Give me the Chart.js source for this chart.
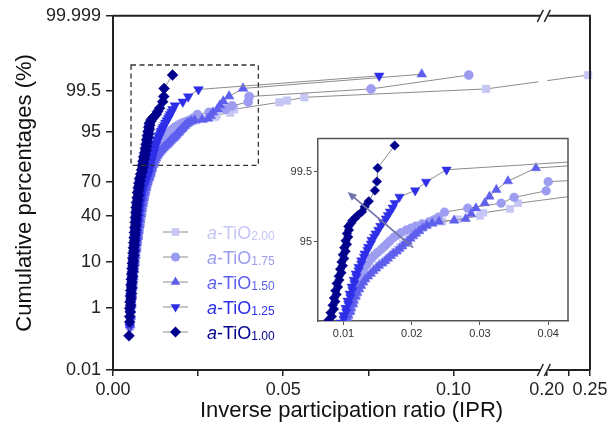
<!DOCTYPE html>
<html><head><meta charset="utf-8">
<script src="https://cdn.jsdelivr.net/npm/chart.js@4.4.1/dist/chart.umd.min.js"></script>
<style>
html,body{margin:0;padding:0;background:#fff;}
#wrap{position:relative;width:611px;height:445px;overflow:hidden;}
#main{position:absolute;left:0;top:0;}
#inset{position:absolute;left:283px;top:130px;}
</style></head><body>
<div id="wrap"><canvas id="main" width="611" height="445"></canvas><canvas id="inset" width="295" height="215"></canvas></div>
<script>
// ---------------- data: [IPR, cumulative %] ----------------
const seriesKeys = ['1.00','1.25','1.50','1.75','2.00'];

const tio100 = [[0.0047,0.16],[0.0049,0.42],[0.0049,0.6],[0.0051,0.8],[0.0049,1.0],[0.0052,1.2],[0.0050,1.45],[0.0053,1.7],[0.0051,2.0],[0.0054,2.3],[0.0052,2.7],[0.0055,3.1],[0.0053,3.6],[0.0056,4.1],[0.0054,4.7],[0.0057,5.3],[0.0055,6.0],[0.0058,6.8],[0.0056,7.6],[0.0059,8.5],[0.0057,9.5],[0.0060,10.5],[0.0058,11.6],[0.0061,12.8],[0.0059,14],[0.0062,15.3],[0.0060,16.7],[0.0063,18.2],[0.0061,19.8],[0.0064,21.4],[0.0062,23.1],[0.0065,24.9],[0.0063,26.8],[0.0066,28.7],[0.0064,30.7],[0.0067,32.7],[0.0065,34.8],[0.0068,36.9],[0.0066,39],[0.0069,41.2],[0.0067,43.4],[0.0070,45.6],[0.0068,47.8],[0.0071,50],[0.0069,52.2],[0.0073,54.4],[0.0071,56.6],[0.0075,58.8],[0.0072,61],[0.0076,63.1],[0.0074,65.1],[0.0078,67],[0.0076,68.9],[0.0080,70.7],[0.0078,72.4],[0.0083,74],[0.0081,75.6],[0.0086,77.1],[0.0084,78.6],[0.0088,80],[0.0086,81.3],[0.0090,82.6],[0.0088,83.8],[0.0092,85],[0.0090,86.1],[0.0094,87.1],[0.0093,88.1],[0.0097,89],[0.0095,89.9],[0.0099,90.7],[0.0097,91.5],[0.0101,92.2],[0.0099,92.9],[0.0103,93.5],[0.0101,94.1],[0.0105,94.6],[0.0103,95.1],[0.0107,95.6],[0.0105,96.0],[0.0108,96.4],[0.0107,96.75],[0.0111,97.05],[0.0113,97.3],[0.0117,97.5],[0.0121,97.7],[0.0127,97.95],[0.0131,98.25],[0.0137,98.55],[0.0146,99.0],[0.0149,99.28],[0.0150,99.57],[0.0175,99.83]];

const tio125 = [[0.0049,0.3],[0.0051,0.5],[0.0050,0.75],[0.0053,1.0],[0.0051,1.3],[0.0054,1.65],[0.0052,2.0],[0.0055,2.5],[0.0053,3.0],[0.0056,3.6],[0.0055,4.2],[0.0058,5.0],[0.0056,5.8],[0.0059,6.7],[0.0058,7.7],[0.0061,8.8],[0.0059,10],[0.0062,11.3],[0.0061,12.7],[0.0064,14.2],[0.0062,15.8],[0.0065,17.5],[0.0064,19.3],[0.0067,21.2],[0.0066,23.2],[0.0069,25.3],[0.0068,27.4],[0.0071,29.6],[0.0070,31.8],[0.0073,34],[0.0072,36.3],[0.0075,38.6],[0.0074,40.9],[0.0077,43.2],[0.0076,45.5],[0.0079,47.8],[0.0078,50.1],[0.0081,52.4],[0.0080,54.7],[0.0083,57],[0.0083,59.2],[0.0086,61.4],[0.0086,63.5],[0.0090,65.6],[0.0091,67.6],[0.0095,69.5],[0.0096,71.2],[0.0100,72.9],[0.0100,74.5],[0.0104,76],[0.0103,77.5],[0.0107,79],[0.0106,80.3],[0.0110,81.6],[0.0109,82.8],[0.0113,84],[0.0112,85.1],[0.0116,86.1],[0.0115,87.1],[0.0119,88],[0.0118,88.8],[0.0122,89.6],[0.0122,90.4],[0.0126,91.1],[0.0126,91.8],[0.0130,92.5],[0.0131,93.1],[0.0135,93.7],[0.0136,94.2],[0.0140,94.7],[0.0141,95.2],[0.0145,95.6],[0.0147,96.0],[0.0151,96.4],[0.0154,96.8],[0.0158,97.15],[0.0162,97.45],[0.0165,97.7],[0.0168,97.95],[0.0172,98.2],[0.0175,98.45],[0.0182,98.75],[0.0205,99.0],[0.0221,99.27],[0.0251,99.54],[0.0782,99.82]];

const tio150 = [[0.0050,0.35],[0.0052,0.6],[0.0051,0.9],[0.0054,1.2],[0.0053,1.6],[0.0056,2.1],[0.0055,2.7],[0.0058,3.4],[0.0057,4.2],[0.0060,5.1],[0.0059,6.1],[0.0062,7.2],[0.0061,8.4],[0.0064,9.7],[0.0063,11.1],[0.0066,12.6],[0.0065,14.2],[0.0068,15.9],[0.0067,17.7],[0.0070,19.6],[0.0070,21.6],[0.0073,23.7],[0.0072,25.8],[0.0075,28],[0.0074,30.2],[0.0077,32.5],[0.0076,34.8],[0.0079,37.1],[0.0078,39.4],[0.0081,41.8],[0.0080,44.2],[0.0083,46.6],[0.0083,49],[0.0086,51.4],[0.0086,53.8],[0.0089,56.2],[0.0089,58.5],[0.0092,60.8],[0.0093,63],[0.0096,65.2],[0.0097,67.3],[0.0100,69.3],[0.0102,71.2],[0.0106,72.9],[0.0107,74.5],[0.0110,76],[0.0111,77.5],[0.0114,79],[0.0115,80.4],[0.0118,81.8],[0.0120,83.1],[0.0123,84.3],[0.0126,85.4],[0.0129,86.4],[0.0132,87.3],[0.0136,88.1],[0.0140,88.8],[0.0144,89.5],[0.0148,90.1],[0.0152,90.7],[0.0157,91.2],[0.0161,91.7],[0.0165,92.2],[0.0169,92.7],[0.0173,93.1],[0.0178,93.5],[0.0182,93.9],[0.0186,94.3],[0.0190,94.7],[0.0194,95.0],[0.0198,95.4],[0.0202,95.7],[0.0206,96.0],[0.0211,96.3],[0.0216,96.6],[0.0222,96.85],[0.0230,97.05],[0.0240,97.2],[0.0262,97.3],[0.0279,97.44],[0.0287,97.8],[0.0294,98.17],[0.0307,98.46],[0.0314,98.77],[0.0324,99.03],[0.0341,99.29],[0.0382,99.57],[0.0907,99.84]];

const tio175 = [[0.0050,0.3],[0.0052,0.55],[0.0051,0.85],[0.0054,1.2],[0.0053,1.6],[0.0056,2.1],[0.0055,2.7],[0.0058,3.4],[0.0057,4.2],[0.0060,5.1],[0.0059,6.1],[0.0062,7.2],[0.0061,8.4],[0.0064,9.7],[0.0063,11.1],[0.0066,12.6],[0.0066,14.2],[0.0069,15.9],[0.0068,17.7],[0.0071,19.6],[0.0071,21.6],[0.0074,23.7],[0.0073,25.8],[0.0076,28],[0.0076,30.2],[0.0079,32.5],[0.0078,34.8],[0.0081,37.1],[0.0081,39.4],[0.0084,41.8],[0.0083,44.2],[0.0086,46.6],[0.0086,49],[0.0089,51.4],[0.0089,53.8],[0.0092,56.2],[0.0092,58.5],[0.0095,60.8],[0.0095,63],[0.0098,65.2],[0.0098,67.3],[0.0101,69.3],[0.0101,71.2],[0.0104,72.9],[0.0105,74.5],[0.0108,76],[0.0108,77.5],[0.0111,79],[0.0111,80.4],[0.0114,81.8],[0.0114,83.1],[0.0117,84.3],[0.0117,85.4],[0.0120,86.4],[0.0121,87.3],[0.0123,88.1],[0.0125,88.9],[0.0128,89.6],[0.0130,90.3],[0.0134,91.0],[0.0137,91.6],[0.0141,92.2],[0.0145,92.8],[0.0150,93.3],[0.0155,93.8],[0.0160,94.3],[0.0164,94.7],[0.0168,95.1],[0.0173,95.5],[0.0178,95.8],[0.0184,96.1],[0.0192,96.4],[0.0199,96.6],[0.0206,96.8],[0.0215,97.0],[0.0225,97.17],[0.0232,97.35],[0.0239,97.57],[0.0248,97.92],[0.0282,98.17],[0.0331,98.45],[0.0350,98.73],[0.0397,98.99],[0.0400,99.275],[0.0758,99.556],[0.1045,99.83]];

const tio200 = [[0.0051,0.4],[0.0053,0.7],[0.0052,1.05],[0.0055,1.45],[0.0054,1.9],[0.0057,2.5],[0.0056,3.1],[0.0059,3.9],[0.0058,4.7],[0.0061,5.7],[0.0060,6.7],[0.0063,7.9],[0.0062,9.1],[0.0065,10.5],[0.0064,11.9],[0.0067,13.5],[0.0067,15.1],[0.0070,16.9],[0.0069,18.7],[0.0072,20.6],[0.0072,22.6],[0.0075,24.7],[0.0074,26.8],[0.0077,29],[0.0077,31.2],[0.0080,33.5],[0.0079,35.8],[0.0082,38.1],[0.0082,40.4],[0.0085,42.8],[0.0084,45.2],[0.0087,47.6],[0.0087,50],[0.0090,52.4],[0.0090,54.8],[0.0093,57.2],[0.0093,59.5],[0.0096,61.8],[0.0097,64],[0.0100,66.2],[0.0101,68.3],[0.0104,70.3],[0.0105,72.2],[0.0108,74],[0.0109,75.6],[0.0112,77.2],[0.0113,78.7],[0.0116,80.1],[0.0117,81.5],[0.0120,82.8],[0.0121,84.0],[0.0124,85.2],[0.0126,86.2],[0.0129,87.2],[0.0133,88.1],[0.0137,88.9],[0.0142,89.6],[0.0147,90.2],[0.0152,90.8],[0.0157,91.4],[0.0162,91.9],[0.0166,92.4],[0.0171,92.9],[0.0175,93.4],[0.0179,93.8],[0.0183,94.2],[0.0187,94.6],[0.0191,95.0],[0.0195,95.4],[0.0199,95.7],[0.0204,96.0],[0.0209,96.3],[0.0215,96.6],[0.0222,96.85],[0.0232,97.05],[0.0245,97.2],[0.0268,97.4],[0.0300,97.65],[0.0305,97.88],[0.0344,98.13],[0.0356,98.45],[0.0489,98.97],[0.0511,99.07],[0.0562,99.24],[0.1096,99.556],[0.2477,99.83]];

// tick values / labels
const yTickVals = [0.01,1,10,40,70,95,99.5,99.999];
const yTickLabels = ['0.01','1','10','40','70','95','99.5','99.999'];
const xTickVals = [0,0.025,0.05,0.075,0.10,0.20,0.225,0.25];
const xTickLabels = ['0.00','','0.05','','0.10','0.20','','0.25'];
const insetXTickVals = [0.01,0.02,0.03,0.04];
const insetXTickLabels = ['0.01','0.02','0.03','0.04'];
const insetYTickVals = [95,99.5];
const insetYTickLabels = ['95','99.5'];
const insetXRange = [0.00626,0.0429];
const insetYRange = [71.99,99.874];
const zoomBoxIPR = [0.0053,0.0427];
const zoomBoxCum = [81.4,99.92];
const arrowTail = [0.0202,94.1];
const arrowHead = [0.0106,98.95];
const xBreak = [0.127,0.20];

// ---------------- styles ----------------
const FONT = '"Liberation Sans", Arial, Helvetica, sans-serif';
const styles = {
  '1.00': {color:'#00008c', shape:'rectRot', rot:0, r:5.5, ri:4.8},
  '1.25': {color:'#2e2ee8', shape:'triangle', rot:180, r:5.6, ri:5.4},
  '1.50': {color:'#5f5fee', shape:'triangle', rot:0, r:5.6, ri:5.4},
  '1.75': {color:'#9c9cf0', shape:'circle', rot:0, r:4.6, ri:4.4},
  '2.00': {color:'#c6c6f6', shape:'rect', rot:0, r:5.4, ri:5.0}
};
const dataMap = {'1.00':tio100,'1.25':tio125,'1.50':tio150,'1.75':tio175,'2.00':tio200};

// ---------------- transforms ----------------
function probit(p){
  const a=[-3.969683028665376e+01,2.209460984245205e+02,-2.759285104469687e+02,1.383577518672690e+02,-3.066479806614716e+01,2.506628277459239e+00];
  const b=[-5.447609879822406e+01,1.615858368580409e+02,-1.556989798598866e+02,6.680131188771972e+01,-1.328068155288572e+01];
  const c=[-7.784894002430293e-03,-3.223964580411365e-01,-2.400758277161838e+00,-2.549732539343734e+00,4.374664141464968e+00,2.938163982698783e+00];
  const d=[7.784695709041462e-03,3.224671290700398e-01,2.445134137142996e+00,3.754408661907416e+00];
  const pl=0.02425, ph=1-pl; let q,r;
  if(p<pl){q=Math.sqrt(-2*Math.log(p));return (((((c[0]*q+c[1])*q+c[2])*q+c[3])*q+c[4])*q+c[5])/((((d[0]*q+d[1])*q+d[2])*q+d[3])*q+1);}
  if(p<=ph){q=p-0.5;r=q*q;return (((((a[0]*r+a[1])*r+a[2])*r+a[3])*r+a[4])*r+a[5])*q/(((((b[0]*r+b[1])*r+b[2])*r+b[3])*r+b[4])*r+1);}
  q=Math.sqrt(-2*Math.log(1-p));return -(((((c[0]*q+c[1])*q+c[2])*q+c[3])*q+c[4])*q+c[5])/((((d[0]*q+d[1])*q+d[2])*q+d[3])*q+1);
}
const fy = pct => probit(pct/100);
const K2 = 0.2544, T2 = 0.1274;
const fx = v => v <= xBreak[0] ? v : T2 + (v - xBreak[1]) * K2;
const ident = v => v;

function makeDatasets(tx, inset){
  return seriesKeys.map(k => {
    const st = styles[k];
    return {
      label: 'a-TiO' + k,
      data: dataMap[k].map(([v,c]) => ({x: tx(v), y: fy(c)})),
      showLine: true, borderColor:'#8c8c8c', borderWidth:1,
      pointStyle: st.shape, rotation: st.rot,
      pointRadius: inset ? st.ri : st.r,
      pointBackgroundColor: st.color, pointBorderColor: st.color, pointBorderWidth: 0.5,
      clip: inset ? 0 : false
    };
  });
}

function drawMarker(ctx, shape, rot, r, x, y){
  ctx.save(); ctx.translate(x,y); ctx.rotate(rot*Math.PI/180); ctx.beginPath();
  if(shape==='circle'){ ctx.arc(0,0,r,0,Math.PI*2); }
  else if(shape==='rect'){ const s=r*Math.SQRT1_2; ctx.rect(-s,-s,2*s,2*s); }
  else if(shape==='rectRot'){ ctx.moveTo(0,-r);ctx.lineTo(r,0);ctx.lineTo(0,r);ctx.lineTo(-r,0);ctx.closePath(); }
  else if(shape==='triangle'){ for(let i=0;i<3;i++){const a=-Math.PI/2+i*2*Math.PI/3; const px=r*Math.cos(a), py=r*Math.sin(a); i?ctx.lineTo(px,py):ctx.moveTo(px,py);} ctx.closePath(); }
  ctx.fill(); ctx.restore();
}

// ---------------- main chart ----------------
const mainPlugin = {
  id:'mainDecor',
  afterDatasetsDraw(chart){
    const {ctx, chartArea:ca, scales:{x}} = chart;
    const bx = x.getPixelForValue(fx(xBreak[0]));
    ctx.save(); ctx.fillStyle='#fff';
    ctx.fillRect(bx-7, ca.top+3, 9, ca.bottom-ca.top-6);
    ctx.restore();
  },
  afterDraw(chart){
    const {ctx, chartArea:ca, scales:{x,y}} = chart;
    ctx.save();
    ctx.strokeStyle='#222'; ctx.lineWidth=2;
    ctx.beginPath(); ctx.moveTo(ca.left, ca.top); ctx.lineTo(ca.right, ca.top); ctx.lineTo(ca.right, ca.bottom); ctx.stroke();
    const bx = x.getPixelForValue(fx(xBreak[0]));
    [ca.top, ca.bottom].forEach(yy => {
      ctx.fillStyle='#fff'; ctx.fillRect(bx-5, yy-2, 8, 4);
      ctx.strokeStyle='#222'; ctx.lineWidth=1.5;
      ctx.beginPath(); ctx.moveTo(bx-8, yy+6); ctx.lineTo(bx-2, yy-6); ctx.stroke();
      ctx.beginPath(); ctx.moveTo(bx-1, yy+6); ctx.lineTo(bx+5, yy-6); ctx.stroke();
    });
    const x0=x.getPixelForValue(fx(zoomBoxIPR[0])), x1=x.getPixelForValue(fx(zoomBoxIPR[1]));
    const y0=y.getPixelForValue(fy(zoomBoxCum[1])), y1=y.getPixelForValue(fy(zoomBoxCum[0]));
    ctx.strokeStyle='#333'; ctx.lineWidth=1.3; ctx.setLineDash([5,3.5]);
    ctx.strokeRect(x0,y0,x1-x0,y1-y0); ctx.setLineDash([]);
    const rows = ['2.00','1.75','1.50','1.25','1.00'];
    rows.forEach((k,i) => {
      const st = styles[k]; const yy = 232 + i*25;
      ctx.strokeStyle='#8c8c8c'; ctx.lineWidth=1;
      ctx.beginPath(); ctx.moveTo(163,yy); ctx.lineTo(188,yy); ctx.stroke();
      ctx.fillStyle = st.color; drawMarker(ctx, st.shape, st.rot, st.r, 175.5, yy);
      let tx = 207; const base = yy + 6.5;
      ctx.textBaseline='alphabetic'; ctx.textAlign='left';
      ctx.font = 'italic 18px ' + FONT; ctx.fillText('a', tx, base); tx += ctx.measureText('a').width;
      ctx.font = '18px ' + FONT; ctx.fillText('-TiO', tx, base); tx += ctx.measureText('-TiO').width;
      ctx.font = '12px ' + FONT; ctx.fillText(k, tx, base + 1.5);
    });
    ctx.restore();
  }
};

new Chart(document.getElementById('main'), {
  type:'scatter',
  data:{ datasets: makeDatasets(fx, false) },
  options:{
    responsive:false, animation:false, events:[],
    layout:{ padding:{ top:15, right:21, left:0, bottom:0 } },
    plugins:{ legend:{display:false}, tooltip:{enabled:false} },
    scales:{
      x:{
        type:'linear', min:0, max:fx(0.25),
        afterBuildTicks: s => { s.ticks = xTickVals.map(v => ({value: fx(v)})); },
        afterFit: s => { s.height = 75; },
        ticks:{ autoSkip:false, maxRotation:0, padding:3, color:'#222', font:{family:FONT, size:18},
                callback:(v,i) => xTickLabels[i] },
        grid:{ drawOnChartArea:false, drawTicks:true, tickLength:6, color:'#222', lineWidth:1.5 },
        border:{ display:true, color:'#222', width:2 },
        title:{ display:true, text:'Inverse participation ratio (IPR)', color:'#111',
                font:{family:FONT, size:22}, padding:{top:0, bottom:21} }
      },
      y:{
        type:'linear', min:fy(0.01), max:fy(99.999),
        afterBuildTicks: s => { s.ticks = yTickVals.map(v => ({value: fy(v)})); },
        afterFit: s => { s.width = 113; },
        ticks:{ autoSkip:false, padding:5, color:'#222', font:{family:FONT, size:18},
                callback:(v,i) => yTickLabels[i] },
        grid:{ drawOnChartArea:false, drawTicks:true, tickLength:7, color:'#222', lineWidth:1.5 },
        border:{ display:true, color:'#222', width:2 },
        title:{ display:true, text:'Cumulative percentages (%)', color:'#111',
                font:{family:FONT, size:22}, padding:{top:12, bottom:0} }
      }
    }
  },
  plugins:[mainPlugin]
});

// ---------------- inset chart ----------------
const insetPlugin = {
  id:'insetDecor',
  afterDraw(chart){
    const {ctx, chartArea:ca, scales:{x,y}} = chart;
    ctx.save();
    ctx.strokeStyle='#555'; ctx.lineWidth=1.5;
    ctx.beginPath(); ctx.moveTo(ca.left, ca.top); ctx.lineTo(ca.right, ca.top); ctx.lineTo(ca.right, ca.bottom); ctx.stroke();
    const x0=x.getPixelForValue(arrowTail[0]), y0=y.getPixelForValue(fy(arrowTail[1]));
    const x1=x.getPixelForValue(arrowHead[0]), y1=y.getPixelForValue(fy(arrowHead[1]));
    const ang = Math.atan2(y1-y0, x1-x0);
    ctx.strokeStyle='#7474aa'; ctx.fillStyle='#7474aa'; ctx.lineWidth=1.8;
    ctx.beginPath(); ctx.moveTo(x0,y0); ctx.lineTo(x1-6*Math.cos(ang), y1-6*Math.sin(ang)); ctx.stroke();
    ctx.beginPath(); ctx.moveTo(x1,y1);
    ctx.lineTo(x1-9*Math.cos(ang)+4*Math.sin(ang), y1-9*Math.sin(ang)-4*Math.cos(ang));
    ctx.lineTo(x1-9*Math.cos(ang)-4*Math.sin(ang), y1-9*Math.sin(ang)+4*Math.cos(ang));
    ctx.closePath(); ctx.fill();
    ctx.restore();
  }
};

new Chart(document.getElementById('inset'), {
  type:'scatter',
  data:{ datasets: makeDatasets(ident, true) },
  options:{
    responsive:false, animation:false, events:[],
    layout:{ padding:{ top:5, right:10, left:0, bottom:0 } },
    plugins:{ legend:{display:false}, tooltip:{enabled:false} },
    scales:{
      x:{
        type:'linear', min:insetXRange[0], max:insetXRange[1],
        afterBuildTicks: s => { s.ticks = insetXTickVals.map(v => ({value:v})); },
        afterFit: s => { s.height = 24; },
        ticks:{ autoSkip:false, maxRotation:0, padding:2, color:'#333', font:{family:FONT, size:11},
                callback:(v,i) => insetXTickLabels[i] },
        grid:{ drawOnChartArea:false, drawTicks:true, tickLength:4, color:'#555', lineWidth:1 },
        border:{ display:true, color:'#555', width:1.5 }
      },
      y:{
        type:'linear', min:fy(insetYRange[0]), max:fy(insetYRange[1]),
        afterBuildTicks: s => { s.ticks = insetYTickVals.map(v => ({value: fy(v)})); },
        afterFit: s => { s.width = 35; },
        ticks:{ autoSkip:false, padding:2, color:'#333', font:{family:FONT, size:11},
                callback:(v,i) => insetYTickLabels[i] },
        grid:{ drawOnChartArea:false, drawTicks:true, tickLength:4, color:'#555', lineWidth:1 },
        border:{ display:true, color:'#555', width:1.5 }
      }
    }
  },
  plugins:[insetPlugin]
});
</script>
</body></html>
